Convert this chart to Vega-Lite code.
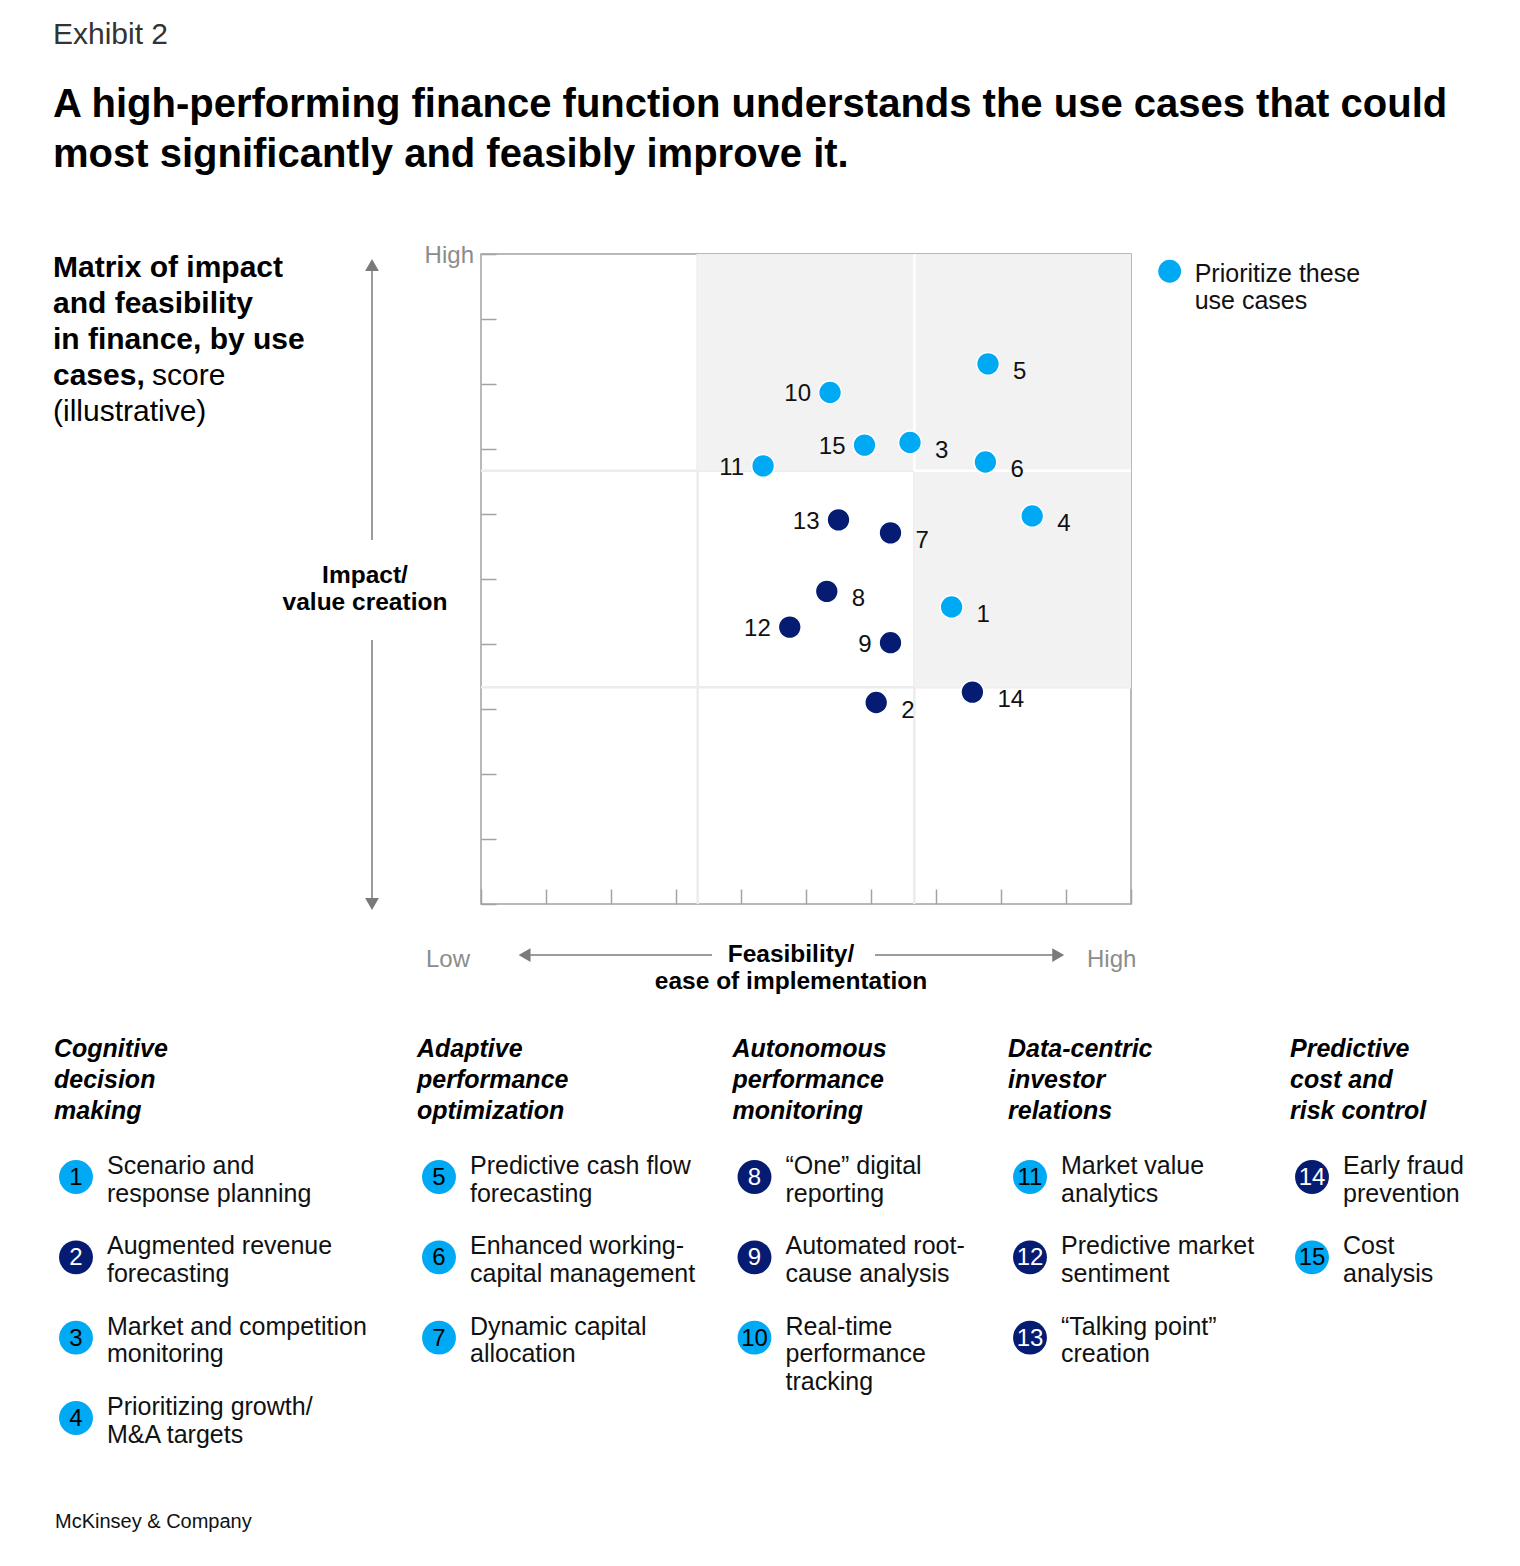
{
  "$schema": "https://vega.github.io/schema/vega-lite/v6.json",
  "width": 650,
  "height": 650,
  "autosize": {"type": "none"},
  "padding": {"left": 481, "top": 254, "right": 389, "bottom": 662},
  "background": "white",
  "title": {
    "text": "Exhibit 2",
    "subtitle": ["A high-performing finance function understands the use cases that could", "most significantly and feasibly improve it."],
    "anchor": "start",
    "frame": "bounds",
    "font": "Liberation Sans",
    "fontSize": 30,
    "fontWeight": "normal",
    "color": "#333333",
    "subtitleFont": "Liberation Sans",
    "subtitleFontSize": 40,
    "subtitleFontWeight": "bold",
    "subtitleColor": "#000000",
    "subtitleLineHeight": 50,
    "subtitlePadding": 35,
    "offset": 69
  },
  "config": {
    "font": "Liberation Sans",
    "view": {"stroke": "#a3a3a3", "strokeWidth": 1.5}
  },
  "datasets": {
    "cases": [
      {"id": 1, "name": "Scenario and\nresponse planning", "group": "Cognitive\ndecision\nmaking", "feasibility": 7.24, "impact": 4.57, "priority": "Prioritize", "listPriority": "Prioritize"},
      {"id": 2, "name": "Augmented revenue\nforecasting", "group": "Cognitive\ndecision\nmaking", "feasibility": 6.08, "impact": 3.1, "priority": "Other", "listPriority": "Other"},
      {"id": 3, "name": "Market and competition\nmonitoring", "group": "Cognitive\ndecision\nmaking", "feasibility": 6.6, "impact": 7.1, "priority": "Prioritize", "listPriority": "Prioritize"},
      {"id": 4, "name": "Prioritizing growth/\nM&A targets", "group": "Cognitive\ndecision\nmaking", "feasibility": 8.48, "impact": 5.97, "priority": "Prioritize", "listPriority": "Prioritize"},
      {"id": 5, "name": "Predictive cash flow\nforecasting", "group": "Adaptive\nperformance\noptimization", "feasibility": 7.8, "impact": 8.31, "priority": "Prioritize", "listPriority": "Prioritize"},
      {"id": 6, "name": "Enhanced working-\ncapital management", "group": "Adaptive\nperformance\noptimization", "feasibility": 7.76, "impact": 6.8, "priority": "Prioritize", "listPriority": "Prioritize"},
      {"id": 7, "name": "Dynamic capital\nallocation", "group": "Adaptive\nperformance\noptimization", "feasibility": 6.3, "impact": 5.71, "priority": "Other", "listPriority": "Prioritize"},
      {"id": 8, "name": "“One” digital\nreporting", "group": "Autonomous\nperformance\nmonitoring", "feasibility": 5.32, "impact": 4.81, "priority": "Other", "listPriority": "Other"},
      {"id": 9, "name": "Automated root-\ncause analysis", "group": "Autonomous\nperformance\nmonitoring", "feasibility": 6.3, "impact": 4.02, "priority": "Other", "listPriority": "Other"},
      {"id": 10, "name": "Real-time\nperformance\ntracking", "group": "Autonomous\nperformance\nmonitoring", "feasibility": 5.37, "impact": 7.87, "priority": "Prioritize", "listPriority": "Prioritize"},
      {"id": 11, "name": "Market value\nanalytics", "group": "Data-centric\ninvestor\nrelations", "feasibility": 4.34, "impact": 6.74, "priority": "Prioritize", "listPriority": "Prioritize"},
      {"id": 12, "name": "Predictive market\nsentiment", "group": "Data-centric\ninvestor\nrelations", "feasibility": 4.75, "impact": 4.26, "priority": "Other", "listPriority": "Other"},
      {"id": 13, "name": "“Talking point”\ncreation", "group": "Data-centric\ninvestor\nrelations", "feasibility": 5.5, "impact": 5.91, "priority": "Other", "listPriority": "Other"},
      {"id": 14, "name": "Early fraud\nprevention", "group": "Predictive\ncost and\nrisk control", "feasibility": 7.56, "impact": 3.26, "priority": "Other", "listPriority": "Other"},
      {"id": 15, "name": "Cost\nanalysis", "group": "Predictive\ncost and\nrisk control", "feasibility": 5.9, "impact": 7.06, "priority": "Prioritize", "listPriority": "Prioritize"}
    ]
  },
  "resolve": {"scale": {"x": "independent", "y": "independent", "color": "independent"}},
  "layer": [
    {
      "data": {"name": "cases"},
      "layer": [
        {"data": {"values": [{}]}, "mark": {"type": "rule", "color": "#ececec", "strokeWidth": 2.5}, "encoding": {"x": {"datum": 3.3333, "type": "quantitative", "title": null}}},
        {"data": {"values": [{}]}, "mark": {"type": "rule", "color": "#ececec", "strokeWidth": 2.5}, "encoding": {"x": {"datum": 6.6667, "type": "quantitative", "title": null}}},
        {"data": {"values": [{}]}, "mark": {"type": "rule", "color": "#ececec", "strokeWidth": 2.5}, "encoding": {"y": {"datum": 3.3333, "type": "quantitative", "title": null}}},
        {"data": {"values": [{}]}, "mark": {"type": "rule", "color": "#ececec", "strokeWidth": 2.5}, "encoding": {"y": {"datum": 6.6667, "type": "quantitative", "title": null}}},
        {"data": {"values": [{}]}, "mark": {"type": "rect", "color": "#f2f2f2"}, "encoding": {"x": {"datum": 3.3333, "type": "quantitative", "title": null}, "x2": {"datum": 10}, "y": {"datum": 6.6667, "type": "quantitative", "title": null}, "y2": {"datum": 10}}},
        {"data": {"values": [{}]}, "mark": {"type": "rect", "color": "#f2f2f2"}, "encoding": {"x": {"datum": 6.6667, "type": "quantitative", "title": null}, "x2": {"datum": 10}, "y": {"datum": 3.3333, "type": "quantitative", "title": null}, "y2": {"datum": 6.6667}}},
        {"data": {"values": [{}]}, "mark": {"type": "rule", "color": "#ffffff", "strokeWidth": 2.5}, "encoding": {"x": {"datum": 6.6667, "type": "quantitative", "title": null}, "y": {"datum": 6.6667, "type": "quantitative", "title": null}, "y2": {"datum": 10}}},
        {"data": {"values": [{}]}, "mark": {"type": "rule", "color": "#ffffff", "strokeWidth": 2.5}, "encoding": {"y": {"datum": 6.6667, "type": "quantitative", "title": null}, "x": {"datum": 6.6667, "type": "quantitative", "title": null}, "x2": {"datum": 10}}},
        {
          "mark": {"type": "point", "filled": true, "opacity": 1, "size": 520, "stroke": "white", "strokeWidth": 1.5, "shape": "circle"},
          "encoding": {
            "x": {"field": "feasibility", "type": "quantitative", "title": null, "scale": {"domain": [0, 10], "nice": false, "zero": false},
              "axis": {"values": [0, 1, 2, 3, 4, 5, 6, 7, 8, 9, 10], "labels": false, "grid": false, "domain": false, "ticks": true, "tickSize": 15, "offset": -15, "tickColor": "#a3a3a3", "tickWidth": 1.5}},
            "y": {"field": "impact", "type": "quantitative", "title": null, "scale": {"domain": [0, 10], "nice": false, "zero": false},
              "axis": {"values": [0, 1, 2, 3, 4, 5, 6, 7, 8, 9, 10], "labels": false, "grid": false, "domain": false, "ticks": true, "tickSize": 15, "offset": -15, "tickColor": "#a3a3a3", "tickWidth": 1.5}},
            "color": {"field": "priority", "type": "nominal", "scale": {"domain": ["Prioritize", "Other"], "range": ["#00A9F4", "#051C72"]}, "legend": null}
          }
        },
        {
          "transform": [{"filter": {"not": {"field": "id", "oneOf": [9, 10, 11, 12, 13, 15]}}}],
          "mark": {"type": "text", "align": "left", "baseline": "middle", "dx": 25, "dy": 8, "fontSize": 24, "color": "#111111"},
          "encoding": {
            "x": {"field": "feasibility", "type": "quantitative", "title": null},
            "y": {"field": "impact", "type": "quantitative", "title": null},
            "text": {"field": "id", "type": "nominal"}
          }
        },
        {
          "transform": [{"filter": {"field": "id", "oneOf": [9, 10, 11, 12, 13, 15]}}],
          "mark": {"type": "text", "align": "right", "baseline": "middle", "dx": -19, "dy": 2, "fontSize": 24, "color": "#111111"},
          "encoding": {
            "x": {"field": "feasibility", "type": "quantitative", "title": null},
            "y": {"field": "impact", "type": "quantitative", "title": null},
            "text": {"field": "id", "type": "nominal"}
          }
        },
        {"data": {"values": [{}]}, "mark": {"type": "text", "text": ["Matrix of impact", "and feasibility", "in finance, by use", "cases,"], "align": "left", "baseline": "alphabetic", "fontSize": 30, "fontWeight": "bold", "lineHeight": 36, "color": "#000000"},
          "encoding": {"x": {"datum": -6.585, "type": "quantitative", "title": null}, "y": {"datum": 9.651, "type": "quantitative", "title": null}}},
        {"data": {"values": [{}]}, "mark": {"type": "text", "text": "score", "align": "left", "baseline": "alphabetic", "fontSize": 30, "color": "#000000"},
          "encoding": {"x": {"datum": -5.06, "type": "quantitative", "title": null}, "y": {"datum": 7.989, "type": "quantitative", "title": null}}},
        {"data": {"values": [{}]}, "mark": {"type": "text", "text": "(illustrative)", "align": "left", "baseline": "alphabetic", "fontSize": 30, "color": "#000000"},
          "encoding": {"x": {"datum": -6.585, "type": "quantitative", "title": null}, "y": {"datum": 7.435, "type": "quantitative", "title": null}}},
        {"data": {"values": [{}]}, "mark": {"type": "text", "text": ["Impact/", "value creation"], "align": "center", "baseline": "alphabetic", "fontSize": 24.5, "fontWeight": "bold", "lineHeight": 27, "color": "#000000"},
          "encoding": {"x": {"datum": -1.785, "type": "quantitative", "title": null}, "y": {"datum": 4.931, "type": "quantitative", "title": null}}},
        {"data": {"values": [{}]}, "mark": {"type": "rule", "color": "#7a7a7a", "strokeWidth": 1.5},
          "encoding": {"x": {"datum": -1.677, "type": "quantitative", "title": null}, "y": {"datum": 9.77, "type": "quantitative", "title": null}, "y2": {"datum": 5.6}}},
        {"data": {"values": [{}]}, "mark": {"type": "rule", "color": "#7a7a7a", "strokeWidth": 1.5},
          "encoding": {"x": {"datum": -1.677, "type": "quantitative", "title": null}, "y": {"datum": 4.06, "type": "quantitative", "title": null}, "y2": {"datum": 0.08}}},
        {"data": {"values": [{}]}, "mark": {"type": "point", "shape": "triangle-up", "filled": true, "size": 190, "color": "#7a7a7a", "opacity": 1},
          "encoding": {"x": {"datum": -1.677, "type": "quantitative", "title": null}, "y": {"datum": 9.83, "type": "quantitative", "title": null}}},
        {"data": {"values": [{}]}, "mark": {"type": "point", "shape": "triangle-down", "filled": true, "size": 190, "color": "#7a7a7a", "opacity": 1},
          "encoding": {"x": {"datum": -1.677, "type": "quantitative", "title": null}, "y": {"datum": 0.0, "type": "quantitative", "title": null}}},
        {"data": {"values": [{}]}, "mark": {"type": "text", "text": "High", "align": "right", "baseline": "alphabetic", "fontSize": 24, "color": "#8c8c8c"},
          "encoding": {"x": {"datum": -0.108, "type": "quantitative", "title": null}, "y": {"datum": 9.862, "type": "quantitative", "title": null}}},
        {"data": {"values": [{}]}, "mark": {"type": "text", "text": "Low", "align": "left", "baseline": "alphabetic", "fontSize": 24, "color": "#8c8c8c"},
          "encoding": {"x": {"datum": -0.846, "type": "quantitative", "title": null}, "y": {"datum": -0.969, "type": "quantitative", "title": null}}},
        {"data": {"values": [{}]}, "mark": {"type": "text", "text": "High", "align": "left", "baseline": "alphabetic", "fontSize": 24, "color": "#8c8c8c"},
          "encoding": {"x": {"datum": 9.323, "type": "quantitative", "title": null}, "y": {"datum": -0.969, "type": "quantitative", "title": null}}},
        {"data": {"values": [{}]}, "mark": {"type": "rule", "color": "#7a7a7a", "strokeWidth": 1.5},
          "encoding": {"x": {"datum": 0.72, "type": "quantitative", "title": null}, "x2": {"datum": 3.554}, "y": {"datum": -0.785, "type": "quantitative", "title": null}}},
        {"data": {"values": [{}]}, "mark": {"type": "rule", "color": "#7a7a7a", "strokeWidth": 1.5},
          "encoding": {"x": {"datum": 6.062, "type": "quantitative", "title": null}, "x2": {"datum": 8.83}, "y": {"datum": -0.785, "type": "quantitative", "title": null}}},
        {"data": {"values": [{}]}, "mark": {"type": "point", "shape": "triangle-left", "filled": true, "size": 190, "color": "#7a7a7a", "opacity": 1},
          "encoding": {"x": {"datum": 0.67, "type": "quantitative", "title": null}, "y": {"datum": -0.785, "type": "quantitative", "title": null}}},
        {"data": {"values": [{}]}, "mark": {"type": "point", "shape": "triangle-right", "filled": true, "size": 190, "color": "#7a7a7a", "opacity": 1},
          "encoding": {"x": {"datum": 8.88, "type": "quantitative", "title": null}, "y": {"datum": -0.785, "type": "quantitative", "title": null}}},
        {"data": {"values": [{}]}, "mark": {"type": "text", "text": ["Feasibility/", "ease of implementation"], "align": "center", "baseline": "alphabetic", "fontSize": 24.5, "fontWeight": "bold", "lineHeight": 27, "color": "#000000"},
          "encoding": {"x": {"datum": 4.769, "type": "quantitative", "title": null}, "y": {"datum": -0.892, "type": "quantitative", "title": null}}},
        {"data": {"values": [{}]}, "mark": {"type": "point", "shape": "circle", "filled": true, "size": 520, "color": "#00A9F4", "opacity": 1},
          "encoding": {"x": {"datum": 10.595, "type": "quantitative", "title": null}, "y": {"datum": 9.735, "type": "quantitative", "title": null}}},
        {"data": {"values": [{}]}, "mark": {"type": "text", "text": ["Prioritize these", "use cases"], "align": "left", "baseline": "alphabetic", "fontSize": 25, "lineHeight": 27.5, "color": "#111111"},
          "encoding": {"x": {"datum": 10.98, "type": "quantitative", "title": null}, "y": {"datum": 9.574, "type": "quantitative", "title": null}}},
        {"data": {"values": [{}]}, "mark": {"type": "text", "text": "McKinsey & Company", "align": "left", "baseline": "alphabetic", "fontSize": 20, "color": "#111111"},
          "encoding": {"x": {"datum": -6.554, "type": "quantitative", "title": null}, "y": {"datum": -9.6, "type": "quantitative", "title": null}}}
      ]
    },
    {
      "data": {"name": "cases"},
      "transform": [
        {"joinaggregate": [{"op": "min", "field": "id", "as": "firstId"}], "groupby": ["group"]},
        {"window": [{"op": "row_number", "as": "row"}], "groupby": ["group"], "sort": [{"field": "id", "order": "ascending"}]}
      ],
      "encoding": {
        "x": {"field": "firstId", "type": "quantitative", "axis": null, "scale": {"domain": [1, 5, 8, 11, 14], "range": [-405, -42, 273.5, 549, 831], "nice": false, "zero": false}},
        "y": {"field": "row", "type": "quantitative", "axis": null, "scale": {"domain": [1, 4], "range": [923, 1164], "nice": false, "zero": false}}
      },
      "layer": [
        {
          "mark": {"type": "point", "shape": "circle", "filled": true, "size": 1150, "opacity": 1},
          "encoding": {"color": {"field": "listPriority", "type": "nominal", "scale": {"domain": ["Prioritize", "Other"], "range": ["#00A9F4", "#051C72"]}, "legend": null}}
        },
        {
          "mark": {"type": "text", "align": "center", "baseline": "middle", "dy": 1, "fontSize": 24},
          "encoding": {
            "text": {"field": "id", "type": "nominal"},
            "color": {"condition": {"test": "datum.listPriority === 'Other'", "value": "#ffffff"}, "value": "#000000"}
          }
        },
        {
          "mark": {"type": "text", "align": "left", "baseline": "alphabetic", "dx": 31, "dy": -3, "fontSize": 25, "lineHeight": 27.5, "lineBreak": "\n", "color": "#111111"},
          "encoding": {"text": {"field": "name", "type": "nominal"}}
        },
        {
          "transform": [{"filter": "datum.row === 1"}],
          "mark": {"type": "text", "align": "left", "baseline": "alphabetic", "dx": -22, "fontSize": 25, "fontWeight": "bold", "fontStyle": "italic", "lineHeight": 31, "lineBreak": "\n", "color": "#000000"},
          "encoding": {
            "y": {"datum": -0.494, "type": "quantitative", "axis": null},
            "text": {"field": "group", "type": "nominal"}
          }
        }
      ]
    }
  ]
}
